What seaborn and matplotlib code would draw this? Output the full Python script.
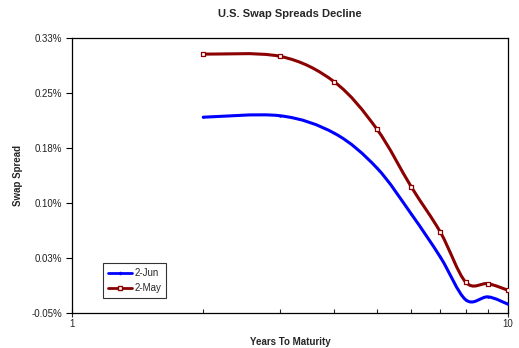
import numpy as np
import pandas as pd
import matplotlib
matplotlib.use("Agg")
import matplotlib.pyplot as plt
from matplotlib.path import Path
from matplotlib.patches import PathPatch
from matplotlib.lines import Line2D
from matplotlib.ticker import FuncFormatter, FixedLocator, LogLocator, NullFormatter
import seaborn as sns

# data
years = [2, 3, 4, 5, 6, 7, 8, 9, 10]
jun = [0.217, 0.219, 0.195, 0.148, 0.085, 0.026, -0.032, -0.028, -0.038]
may = [0.303, 0.300, 0.265, 0.201, 0.122, 0.060, -0.008, -0.010, -0.019]
series = ['2-Jun', '2-May']
colors = {'2-Jun': '#0000ff', '2-May': '#8b0000'}
yticks = [-0.05, 0.025, 0.10, 0.175, 0.25, 0.325]

df = pd.DataFrame({
    'Years': years * 2,
    'Spread': jun + may,
    'Series': ['2-Jun'] * len(years) + ['2-May'] * len(years),
})

sns.set_style('white')
plt.rcParams['font.family'] = ['Liberation Sans', 'DejaVu Sans']


def smooth_path(x, y):
    # Excel-like smoothed line: Catmull-Rom -> cubic bezier in (log x, y) space
    lx = np.log10(np.asarray(x, float))
    yy = np.asarray(y, float)
    pts = np.column_stack([lx, yy])
    pts_ext = np.vstack([pts[0], pts, pts[-1]])
    verts = [pts[0]]
    codes = [Path.MOVETO]
    for i in range(1, len(pts_ext) - 2):
        p0, p1, p2, p3 = pts_ext[i - 1], pts_ext[i], pts_ext[i + 1], pts_ext[i + 2]
        c1 = p1 + (p2 - p0) / 6.0
        c2 = p2 - (p3 - p1) / 6.0
        verts += [c1, c2, p2]
        codes += [Path.CURVE4] * 3
    verts = np.array(verts)
    verts[:, 0] = 10 ** verts[:, 0]
    return Path(verts, codes)


def pct(v, p):
    return f'{np.round(v + 1e-9, 2):.2f}%'


fig = plt.figure(figsize=(5.19, 3.48), dpi=100)
ax = fig.add_axes([72 / 519, 1 - 313 / 348, 436 / 519, 275 / 348])
ax.set_xscale('log')

for name, vals in [('2-Jun', jun), ('2-May', may)]:
    patch = PathPatch(smooth_path(years, vals), facecolor='none',
                      edgecolor=colors[name], lw=2.2, transform=ax.transData,
                      capstyle='round', joinstyle='round')
    ax.add_patch(patch)

sns.scatterplot(data=df[df.Series == '2-May'], x='Years', y='Spread', ax=ax,
                marker='s', s=9, facecolor='white', edgecolor=colors['2-May'],
                linewidth=0.9, legend=False, zorder=3)
sns.scatterplot(data=df[df.Series == '2-Jun'], x='Years', y='Spread', ax=ax,
                marker='o', s=3, color=colors['2-Jun'], linewidth=0,
                legend=False, zorder=3)

ax.set_xlim(1, 10)
ax.set_ylim(-0.05, 0.325)
ax.yaxis.set_major_locator(FixedLocator(yticks))
ax.yaxis.set_major_formatter(FuncFormatter(pct))
ax.xaxis.set_major_locator(FixedLocator([1, 10]))
ax.xaxis.set_major_formatter(FuncFormatter(lambda v, p: f'{v:g}'))
ax.xaxis.set_minor_locator(LogLocator(base=10, subs=np.arange(2, 10)))
ax.xaxis.set_minor_formatter(NullFormatter())

for s in ax.spines.values():
    s.set_visible(True)
    s.set_color('black')
    s.set_linewidth(0.9)

ax.tick_params(axis='y', which='major', direction='out', length=4, width=0.8,
               labelsize=7, colors='black', pad=3, left=True)
ax.tick_params(axis='y', labelcolor='#222222')
ax.tick_params(axis='x', which='major', direction='inout', length=6, width=0.8,
               labelsize=7, pad=1, bottom=True)
ax.tick_params(axis='x', which='minor', direction='in', length=3, width=0.8,
               bottom=True)

ax.set_xlabel('Years To Maturity', fontsize=7, fontweight='bold', labelpad=6)
ax.set_ylabel('Swap Spread', fontsize=7, fontweight='bold', labelpad=6)
fig.text(0.5 * (72 + 508) / 519, 1 - 14 / 348, 'U.S. Swap Spreads Decline',
         ha='center', va='center', fontsize=8, fontweight='bold')

handles = [
    Line2D([], [], color=colors['2-Jun'], lw=2, marker='o', markersize=1.5),
    Line2D([], [], color=colors['2-May'], lw=2, marker='s', markersize=3,
           markerfacecolor='white', markeredgecolor=colors['2-May']),
]
leg = ax.legend(handles, series, loc='lower left', bbox_to_anchor=(31 / 436, 15 / 275),
                fontsize=7, frameon=True, fancybox=False, edgecolor='black',
                handlelength=2.5, handletextpad=0.2, borderpad=0.5,
                labelspacing=0.5, borderaxespad=0)
leg.get_frame().set_linewidth(0.8)

fig.savefig('out.png', dpi=100)
